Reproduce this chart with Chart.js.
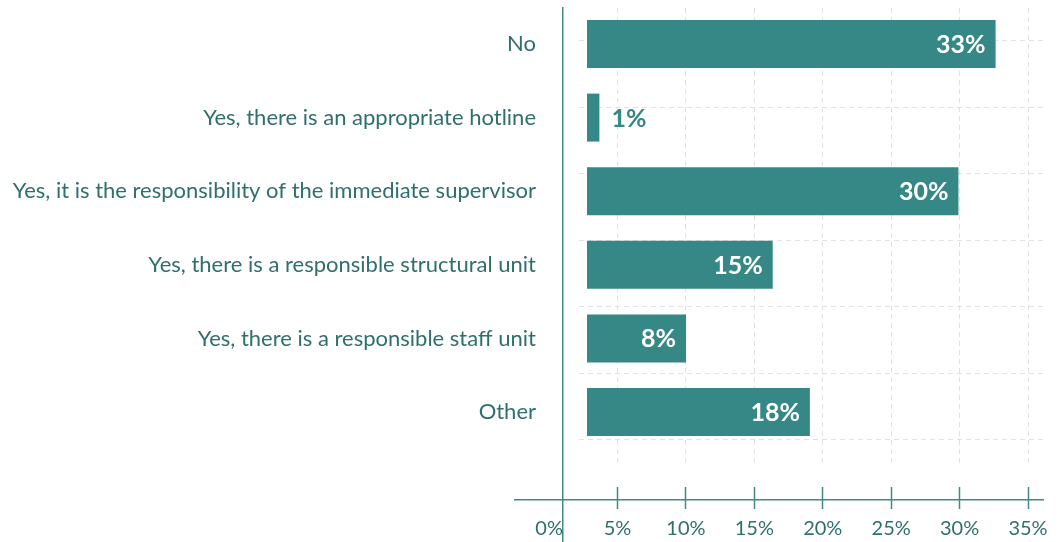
<!DOCTYPE html>
<html>
<head>
<meta charset="utf-8">
<script src="https://cdn.jsdelivr.net/npm/chart.js@4.4.1/dist/chart.umd.min.js"></script>
<style>
  html, body { margin: 0; padding: 0; background: #fff; }
  #wrap { width: 1058px; height: 542px; }
</style>
</head>
<body>
<div id="wrap"><canvas id="myChart"></canvas></div>
<script>
var categories = [
  'No',
  'Yes, there is an appropriate hotline',
  'Yes, it is the responsibility of the immediate supervisor',
  'Yes, there is a responsible structural unit',
  'Yes, there is a responsible staff unit',
  'Other'
];
var shares = [33, 1, 30, 15, 8, 18];
var tickStep = 5;

var barColor = '#358885';
var axisColor = '#3d8a88';
var textColor = '#2f6f6e';
var gridColor = '#e2e2e2';
var none = 'rgba(0,0,0,0)';

Chart.defaults.font.family = 'Lato';

// value labels on the bars
var barLabels = {
  id: 'barLabels',
  afterDatasetsDraw: function(chart) {
    var ctx = chart.ctx;
    var meta = chart.getDatasetMeta(0);
    ctx.save();
    ctx.font = 'bold 25px Lato';
    ctx.textBaseline = 'middle';
    meta.data.forEach(function(bar, i) {
      var txt = shares[i] + '%';
      var w = ctx.measureText(txt).width;
      if (bar.x - bar.base > w + 20) {
        ctx.fillStyle = '#ffffff';
        ctx.textAlign = 'right';
        ctx.fillText(txt, bar.x - 10, bar.y + 1);
      } else {
        ctx.fillStyle = barColor;
        ctx.textAlign = 'left';
        ctx.fillText(txt, bar.x + 12, bar.y + 1);
      }
    });
    ctx.restore();
  }
};

// keep label overflow from shrinking the plot
function noPad(scale) {
  scale.paddingTop = 0;
  scale.paddingBottom = 0;
}

window.onload = function() {

var ctx = document.getElementById('myChart');
var myChart = new Chart(ctx, {
  type: 'bar',
  data: {
    datasets: [
      {
        label: 'Share',
        backgroundColor: barColor,
        data: shares.map(function(v, i) { return { x: v, y: i }; }),
        xAxisID: 'xb',
        yAxisID: 'y',
        categoryPercentage: 1,
        barPercentage: 0.652
      }
    ]
  },
  options: {
    indexAxis: 'y',
    responsive: true,
    maintainAspectRatio: false,
    animation: false,
    layout: { autoPadding: false, padding: { left: 515, right: 15, top: 8, bottom: 0 } },
    plugins: { legend: { display: false }, tooltip: { enabled: false } },
    scales: {
      // bar scale (hidden)
      xb: { type: 'linear', display: false, min: -5.816, max: 36.83 },
      // category labels
      y: {
        type: 'linear', reverse: true, min: -0.489, max: 6.766, offset: false,
        position: { xa: -0.957 },
        afterFit: noPad,
        grid: { display: false, drawTicks: false, offset: false },
        border: { display: false },
        ticks: {
          stepSize: 1, includeBounds: false, autoSkip: false, padding: 0,
          color: textColor, font: { size: 22 },
          callback: function(v) { return categories[v] || ''; }
        }
      },
      // vertical axis line
      yl: {
        type: 'linear', min: 0, max: 1, offset: false,
        position: { xa: 1.016 },
        afterFit: noPad,
        grid: { display: false, offset: false },
        border: { display: true, color: axisColor, width: 1.5 },
        ticks: { display: false }
      },
      // horizontal dashed grid
      yg: {
        type: 'linear', reverse: true, min: -0.496, max: 7.534, offset: false,
        position: { xa: 36.094 },
        afterFit: noPad,
        grid: {
          offset: false, drawOnChartArea: false, drawTicks: true, tickLength: 467,
          tickColor: function(c) { return c.tick && c.tick.value <= 6 ? gridColor : none; },
          tickBorderDash: [5, 4], tickWidth: 1
        },
        border: { display: false },
        ticks: { display: false, stepSize: 1, includeBounds: false }
      },
      // visible percent axis: tick marks + labels
      xa: {
        type: 'linear', min: -2.492, max: 36.094, offset: false,
        position: { y: 6.019 },
        grid: {
          offset: false, drawOnChartArea: false, drawTicks: true, tickLength: 22, tickWidth: 1.5,
          tickColor: function(c) { return c.tick && c.tick.value === 0 ? none : axisColor; }
        },
        border: { display: false },
        ticks: {
          stepSize: tickStep, includeBounds: false, padding: 8,
          color: textColor, font: { size: 20 },
          callback: function(v) { return v + '%'; }
        }
      },
      // horizontal axis line
      xl: {
        type: 'linear', min: -2.492, max: 36.094, offset: false,
        position: { y: 6.196 },
        grid: { display: false, offset: false },
        border: { display: true, color: axisColor, width: 1.5 },
        ticks: { display: false }
      },
      // vertical dashed grid
      xg: {
        type: 'linear', min: -2.492, max: 36.094, offset: false,
        position: { y: -0.489 },
        grid: {
          offset: false, drawOnChartArea: false, drawTicks: true, tickLength: 459, tickWidth: 1,
          tickColor: function(c) { return c.tick && c.tick.value === 0 ? none : gridColor; },
          tickBorderDash: [5, 4]
        },
        border: { display: false },
        ticks: { display: false, stepSize: tickStep, includeBounds: false }
      }
    }
  },
  plugins: [barLabels]
});

};
</script>
</body>
</html>
